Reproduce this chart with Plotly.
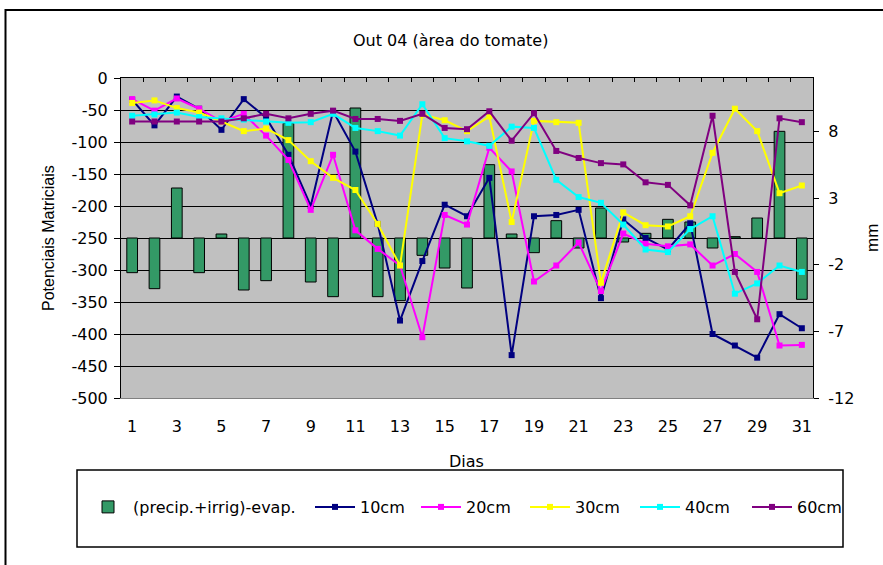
import plotly.graph_objects as go

# ---------------- data ----------------
days = list(range(1, 32))

balance_mm = [-2.6, -3.8, 3.75, -2.6, 0.3, -3.9, -3.2, 8.6, -3.3, -4.4,
              9.75, -4.4, -4.7, -1.3, -2.25, -3.75, 5.5, 0.3, -1.1, 1.3,
              -0.75, 2.25, -0.3, 0.35, 1.4, 1.2, -0.75, 0.1, 1.5, 8.0, -4.6]

cm10 = [-34, -74, -29, -48, -81, -33, -62, -120, -200, -52,
        -115, -228, -379, -286, -198, -216, -156, -433, -216, -214,
        -206, -344, -221, -250, -268, -227, -400, -418, -437, -369, -391]

cm20 = [-33, -51, -32, -48, -68, -56, -90, -128, -206, -120,
        -238, -267, -293, -405, -214, -229, -109, -146, -318, -293,
        -257, -333, -243, -259, -263, -260, -293, -275, -303, -418, -417]

cm30 = [-39, -35, -47, -54, -68, -83, -79, -97, -130, -156,
        -175, -228, -293, -57, -66, -83, -60, -225, -67, -69,
        -70, -320, -210, -230, -232, -216, -117, -48, -83, -180, -168]

cm40 = [-59, -57, -54, -61, -63, -65, -68, -70, -69, -56,
        -78, -83, -90, -41, -94, -99, -106, -76, -78, -159,
        -186, -195, -229, -268, -272, -236, -216, -337, -321, -293, -303]

cm60 = [-68, -68, -68, -68, -68, -63, -56, -63, -56, -51,
        -64, -64, -67, -56, -78, -80, -52, -98, -55, -114,
        -125, -133, -135, -163, -167, -199, -59, -303, -377, -63, -69]

series_names = ["10cm", "20cm", "30cm", "40cm", "60cm"]
series_values = [cm10, cm20, cm30, cm40, cm60]
series_colors = ["#000080", "#FF00FF", "#FFFF00", "#00FFFF", "#800080"]
legend_widths = [51, 54, 55, 57, 55]

left_ticks = list(range(-500, 1, 50))
left_tick_labels = [str(v) for v in left_ticks]
right_ticks = [-12, -7, -2, 3, 8]
right_tick_labels = [str(v) for v in right_ticks]
x_tick_days = days[::2]
x_tick_labels = [str(d) for d in x_tick_days]

# ---------------- layout helpers ----------------
W, H = 883, 565
L, R, T, B = 121, 70, 78, 167
PW, PH = W - L - R, H - T - B


def px(x):
    return (x - L) / PW


def py(y):
    return (H - B - y) / PH


FONT = "DejaVu Sans"
VFONT = "Liberation Sans"

fig = go.Figure()

fig.add_trace(go.Bar(
    x=days, y=balance_mm, name="(precip.+irrig)-evap.",
    marker=dict(color="#339966", line=dict(color="black", width=1)),
    xaxis="x", yaxis="y", legendwidth=172,
))

for name, vals, col, lw in zip(series_names, series_values, series_colors,
                               legend_widths):
    fig.add_trace(go.Scatter(
        x=days, y=vals, name=name, mode="lines+markers",
        line=dict(color=col, width=2),
        marker=dict(symbol="square", size=6, color=col),
        xaxis="x2", yaxis="y2", legendwidth=lw,
    ))

fig.update_layout(
    width=W, height=H,
    margin=dict(l=L, r=R, t=T, b=B, autoexpand=False),
    paper_bgcolor="white", plot_bgcolor="#C0C0C0",
    font=dict(family=FONT, size=16, color="black"),
    bargap=0.52,
    showlegend=True,
    legend=dict(orientation="h", x=px(83), y=py(507), xanchor="left",
                yanchor="middle", bgcolor="rgba(0,0,0,0)", borderwidth=0,
                itemwidth=40,
                font=dict(family=FONT, size=16, color="black")),
    xaxis=dict(range=[0.5, 31.5], tickmode="array", tickvals=x_tick_days,
               ticktext=x_tick_labels, showline=True, linecolor="#808080",
               ticks="", showgrid=False, zeroline=False, anchor="y",
               ticklabelstandoff=14),
    xaxis2=dict(overlaying="x", side="top", anchor="y2", range=[0.5, 31.5],
                tickmode="array", tickvals=[d + 0.5 for d in days[:-1]],
                ticks="inside", ticklen=4, tickcolor="black",
                showticklabels=False, showline=True, linecolor="black",
                showgrid=False, zeroline=False),
    yaxis=dict(side="right", anchor="x", range=[-12, 12], tickmode="array",
               tickvals=right_ticks, ticktext=right_tick_labels,
               ticks="outside", ticklen=5,
               tickcolor="black", showline=True, linecolor="black",
               showgrid=False, zeroline=False, ticklabelstandoff=6),
    yaxis2=dict(side="left", overlaying="y", anchor="x2", range=[-500, 0],
                tickmode="array", tickvals=left_ticks,
                ticktext=left_tick_labels, ticks="outside",
                ticklen=6, tickcolor="black", showline=True,
                linecolor="black", showgrid=False, zeroline=False,
                ticklabelstandoff=3,
                minor=dict(tickmode="array", tickvals=left_ticks[1:-1],
                           showgrid=True, gridcolor="black", gridwidth=1,
                           ticks="")),
    shapes=[
        dict(type="rect", xref="paper", yref="paper",
             x0=px(5.5), x1=px(900), y0=py(590), y1=py(10),
             line=dict(color="black", width=2), fillcolor="rgba(0,0,0,0)"),
        dict(type="rect", xref="paper", yref="paper",
             x0=px(77), x1=px(843), y0=py(547), y1=py(470),
             line=dict(color="black", width=1.5), fillcolor="rgba(0,0,0,0)"),
    ],
    annotations=[
        dict(text="Out 04 (àrea do tomate)", xref="paper", yref="paper",
             x=px(450), y=py(40), xanchor="center", yanchor="middle",
             showarrow=False, font=dict(family=FONT, size=16)),
        dict(text="Potenciais Matriciais", xref="paper", yref="paper",
             x=px(48), y=py(238), xanchor="center", yanchor="middle",
             textangle=-90, showarrow=False,
             font=dict(family=VFONT, size=16)),
        dict(text="mm", xref="paper", yref="paper",
             x=px(872), y=py(238), xanchor="center", yanchor="middle",
             textangle=-90, showarrow=False,
             font=dict(family=VFONT, size=17)),
        dict(text="Dias", xref="paper", yref="paper",
             x=px(466), y=py(461), xanchor="center", yanchor="middle",
             showarrow=False, font=dict(family=FONT, size=16)),
    ],
)

fig.write_html(
    "out.html",
    config={"displayModeBar": False},
    post_script="document.body.style.margin='0';"
                "document.body.style.overflow='hidden';",
)
